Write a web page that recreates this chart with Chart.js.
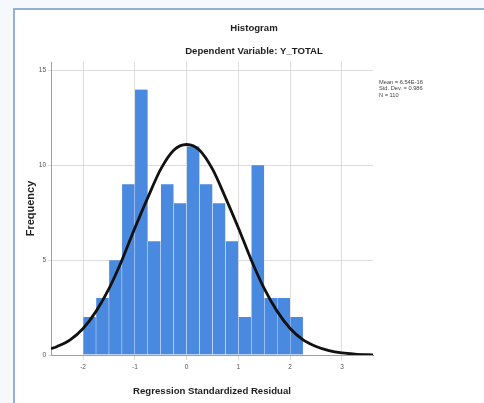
<!DOCTYPE html>
<html>
<head>
<meta charset="utf-8">
<script src="https://cdn.jsdelivr.net/npm/chart.js@4/dist/chart.umd.min.js"></script>
<style>
  html, body { margin: 0; padding: 0; background: #fff; }
</style>
</head>
<body>
<canvas id="hist" width="484" height="403"></canvas>
<script>
// bin centres of the standardized residuals (bin width 0.25)
var binCenters = [-1.875, -1.625, -1.375, -1.125, -0.875, -0.625, -0.375, -0.125,
                  0.125, 0.375, 0.625, 0.875, 1.125, 1.375, 1.625, 1.875, 2.125];
var frequencies = [2, 3, 5, 9, 14, 6, 9, 8, 11, 9, 8, 6, 2, 10, 3, 3, 2];

// normal curve
var curveX = [-2.62, -2.5, -2.25, -2, -1.75, -1.5, -1.25, -1, -0.75, -0.5, -0.25, 0,
              0.25, 0.5, 0.75, 1, 1.25, 1.5, 1.75, 2, 2.25, 2.5, 2.75, 3, 3.25, 3.6];
var curveY = [0.33, 0.45, 0.8, 1.4, 2.3, 3.5, 5.0, 6.7, 8.3, 9.8, 10.8, 11.1,
              10.8, 9.8, 8.3, 6.7, 5.0, 3.5, 2.3, 1.4, 0.8, 0.45, 0.23, 0.11, 0.05, 0.01];

var xTicks = [-2, -1, 0, 1, 2, 3];
var yTicks = [0, 5, 10, 15];

var statsLines = ["Mean = 6.54E-16", "Std. Dev. = 0.986", "N = 110"];
var chartTitle = "Histogram";
var chartSubtitle = "Dependent Variable: Y_TOTAL";

var FONT = "'Liberation Sans', Arial, sans-serif";

var spssFrame = {
  id: 'spssFrame',
  beforeDraw: function(chart) {
    var ctx = chart.ctx;
    ctx.save();
    ctx.fillStyle = '#f6f9fc';
    ctx.fillRect(0, 0, chart.width, chart.height);
    ctx.fillStyle = '#ffffff';
    ctx.fillRect(14, 9, chart.width - 14, chart.height - 9);
    ctx.strokeStyle = '#93b2d3';
    ctx.lineWidth = 2;
    ctx.beginPath();
    ctx.moveTo(14, chart.height);
    ctx.lineTo(14, 9);
    ctx.lineTo(chart.width, 9);
    ctx.stroke();
    ctx.restore();
  },
  afterDraw: function(chart) {
    var ctx = chart.ctx;
    ctx.save();
    ctx.fillStyle = '#1e1e1e';
    ctx.textAlign = 'center';
    ctx.textBaseline = 'middle';
    ctx.font = 'bold 9.6px ' + FONT;
    ctx.fillText(chartTitle, 254, 28);
    ctx.fillText(chartSubtitle, 254, 51);

    ctx.textAlign = 'left';
    ctx.fillStyle = '#444';
    ctx.font = '5.7px ' + FONT;
    for (var i = 0; i < statsLines.length; i++) {
      ctx.fillText(statsLines[i], 379, 82 + i * 6.5);
    }
    ctx.restore();
  }
};

function keepTicks(list) {
  return function(scale) {
    scale.ticks = list.map(function(v) { return { value: v }; });
  };
}

var barData = binCenters.map(function(c, i) { return { x: c, y: frequencies[i] }; });
var curveData = curveX.map(function(x, i) { return { x: x, y: curveY[i] }; });

new Chart(document.getElementById('hist').getContext('2d'), {
  data: {
    datasets: [
      {
        type: 'line',
        data: curveData,
        borderColor: '#111111',
        borderWidth: 2.8,
        pointRadius: 0,
        cubicInterpolationMode: 'monotone',
        fill: false,
        order: 0
      },
      {
        type: 'bar',
        data: barData,
        backgroundColor: '#4a89e0',
        borderColor: 'rgba(255,255,255,0.75)',
        borderWidth: { top: 0, right: 0.5, bottom: 0, left: 0.5 },
        borderSkipped: false,
        barPercentage: 1,
        categoryPercentage: 1,
        order: 1
      }
    ]
  },
  options: {
    responsive: false,
    animation: false,
    layout: { padding: { left: 23, right: 111, top: 62, bottom: 4 } },
    plugins: {
      legend: { display: false },
      tooltip: { enabled: false },
      title: { display: false }
    },
    scales: {
      x: {
        type: 'linear',
        min: -2.62,
        max: 3.6,
        offset: false,
        afterBuildTicks: keepTicks(xTicks),
        afterFit: function(s) { s.height = 44; },
        grid: { color: '#dcdcdc', tickLength: 5, offset: false },
        border: { color: '#a0a0a0' },
        ticks: { font: { family: FONT, size: 6.5 }, color: '#555', padding: 3, maxRotation: 0, autoSkip: false },
        title: {
          display: true,
          text: 'Regression Standardized Residual',
          font: { family: FONT, size: 9.6, weight: 'bold' },
          color: '#1e1e1e',
          padding: { top: 4, bottom: 2 }
        }
      },
      y: {
        min: 0,
        max: 15.45,
        afterBuildTicks: keepTicks(yTicks),
        afterFit: function(s) { s.width = 28; },
        grid: { color: '#dcdcdc', tickLength: 3 },
        border: { color: '#a0a0a0' },
        ticks: { font: { family: FONT, size: 6.5 }, color: '#555', padding: 2 },
        title: {
          display: true,
          text: 'Frequency',
          font: { family: FONT, size: 11, weight: 'bold' },
          color: '#1e1e1e',
          padding: { top: 1, bottom: 0 }
        }
      }
    }
  },
  plugins: [spssFrame]
});
</script>
</body>
</html>
